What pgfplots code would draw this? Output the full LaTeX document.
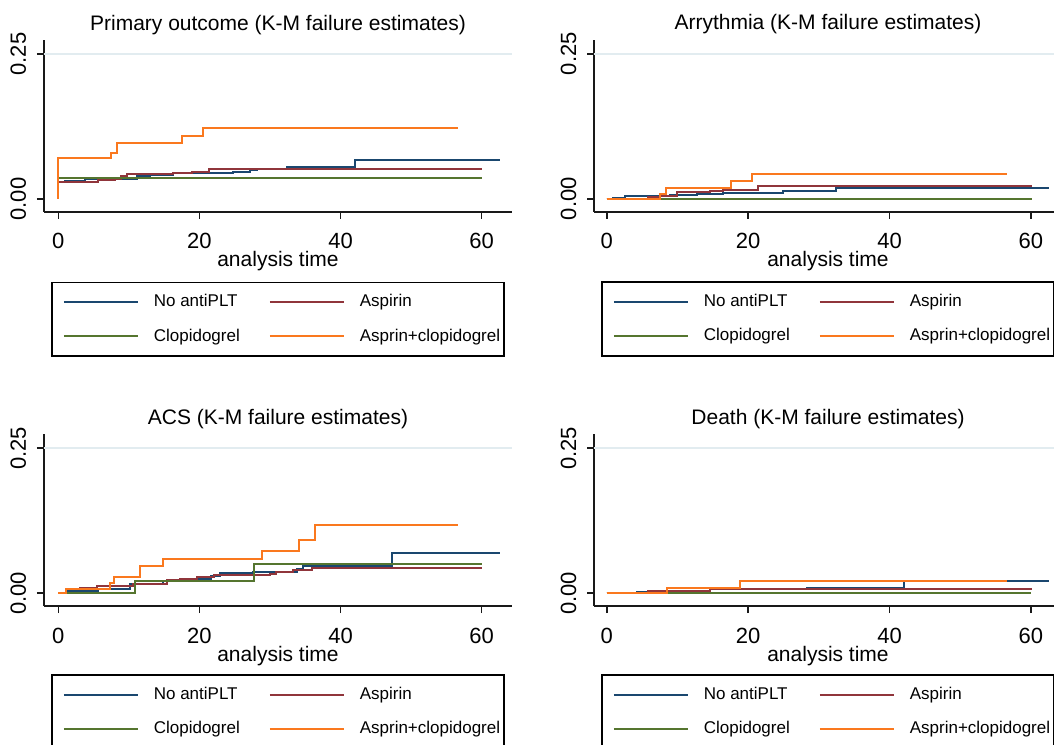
\documentclass[border=0pt]{standalone}
\usepackage{fontspec}
\setmainfont{Liberation Sans}
\usepackage{pgfplots}
\pgfplotsset{compat=1.18}

\definecolor{snavy}{RGB}{26,71,111}
\definecolor{smaroon}{RGB}{144,53,59}
\definecolor{sgreen}{RGB}{85,117,47}
\definecolor{sorange}{RGB}{250,120,30}
\definecolor{sgrid}{RGB}{226,236,240}

% one Stata-like K-M panel; 1px of the reference = 0.5pt
\pgfplotsset{
  km/.style={
    scale only axis, width=234pt, height=86pt,
    ymin=-0.0224, ymax=0.2741,
    axis x line=bottom, axis y line=left,
    axis line style={-, line width=1pt, black!90},
    xtick={0,20,40,60}, ytick={0,0.25},
    extra y ticks={0.25}, extra y tick labels={},
    extra y tick style={grid=major, major tick length=0pt},
    major grid style={sgrid, line width=0.8pt},
    tick align=outside, major tick length=3.5pt,
    every tick/.style={black!90, line width=0.8pt},
    /pgf/number format/assume math mode=true,
    yticklabel style={xshift=-5.5pt, rotate=90, anchor=base, font=\fontsize{11}{13}\selectfont,
      /pgf/number format/.cd, fixed, fixed zerofill, precision=2},
    xticklabel style={anchor=base, yshift=-15pt, inner sep=0pt, font=\fontsize{11}{13}\selectfont},
    xlabel={analysis time},
    xlabel style={at={(axis description cs:0.5,0)}, anchor=base, yshift=-27.5pt, inner sep=0pt,
      font=\fontsize{10.5}{12}\selectfont},
    title style={at={(axis description cs:0.5,1)}, anchor=base, yshift=-1.1pt,
      font=\fontsize{10.5}{12}\selectfont},
    legend columns=2,
    legend cell align=left,
    legend image code/.code={\path (0pt,0pt); \draw[##1] (3.5pt,0pt) -- (40.5pt,0pt);},
    legend style={at={(0.015,-0.405)}, anchor=north west, draw=black, line width=0.8pt,
      fill=white, font=\fontsize{8.5}{10}\selectfont, inner xsep=2pt, inner ysep=6pt,
      nodes={inner sep=0pt}, row sep=9.5pt,
      /tikz/every odd column/.append style={column sep=7.5pt},
      /tikz/every even column/.append style={column sep=11pt}},
    every axis plot/.append style={line width=1pt, const plot},
  },
}

\begin{document}
\begin{tikzpicture}
\useasboundingbox (0,0) rectangle (527pt,372pt);
\clip (0,0) rectangle (527pt,372pt);

% ---------- Primary outcome
\begin{axis}[km, at={(22pt,266pt)}, anchor=south west, xmin=-2.03, xmax=64.3,
  title={Primary outcome (K-M failure estimates)}]
\addplot[snavy] coordinates {(0,0.0299) (0.94,0.0316) (3.78,0.0345) (11.1,0.0397) (13.0,0.0408)
  (16.3,0.0443) (24.8,0.046) (27.2,0.05) (28.1,0.0511) (32.4,0.0546) (42.0,0.0672) (62.6,0.0672)};
\addplot[smaroon] coordinates {(0,0.0287) (5.67,0.0328) (8.03,0.0351) (8.83,0.0397) (9.68,0.0425)
  (16.3,0.0448) (18.9,0.0466) (21.3,0.0523) (60.1,0.0523)};
\addplot[sgreen] coordinates {(0,0.0368) (60.1,0.0368)};
\addplot[sorange] coordinates {(0,0) (0,0.0713) (7.46,0.0787) (8.27,0.097) (17.57,0.109)
  (20.55,0.123) (56.6,0.123)};
\legend{No antiPLT, Aspirin, Clopidogrel, Asprin+clopidogrel}
\end{axis}

% ---------- Arrythmia
\begin{axis}[km, at={(297pt,266.1pt)}, anchor=south west, xmin=-1.8, xmax=64.4,
  title={Arrythmia (K-M failure estimates)}]
\addplot[snavy] coordinates {(0,0) (0.94,0.0017) (2.59,0.004) (8.96,0.0057) (12.7,0.0075)
  (16.5,0.0098) (24.9,0.0126) (32.5,0.0184) (62.5,0.0184)};
\addplot[smaroon] coordinates {(0,0) (5.89,0.0029) (7.54,0.0052) (9.9,0.0109) (14.6,0.0132)
  (16.5,0.0155) (21.45,0.0218) (60.1,0.0218)};
\addplot[sgreen] coordinates {(0,0) (60.1,0)};
\addplot[sorange] coordinates {(0,0) (7.54,0.0086) (8.39,0.0184) (17.59,0.0299) (20.5,0.042)
  (56.6,0.042)};
\legend{No antiPLT, Aspirin, Clopidogrel, Asprin+clopidogrel}
\end{axis}

% ---------- ACS
\begin{axis}[km, at={(22pt,68.9pt)}, anchor=south west, xmin=-2.03, xmax=64.3,
  title={ACS (K-M failure estimates)}, legend style={at={(0.015,-0.397)}}]
\addplot[snavy] coordinates {(0,0) (1.42,0.004) (5.67,0.0081) (10.2,0.0156) (14.9,0.0214)
  (18.2,0.0243) (21.7,0.0295) (22.9,0.0341) (27.6,0.0365) (33.8,0.0411) (34.7,0.0469)
  (47.3,0.0689) (62.6,0.0689)};
\addplot[smaroon] coordinates {(0,0) (1.1,0.0064) (3.07,0.0093) (5.43,0.0116) (10.6,0.0156)
  (15.35,0.0226) (17.2,0.0249) (19.6,0.0284) (22.0,0.0312) (30.0,0.033) (30.9,0.037)
  (33.3,0.040) (36.0,0.0434) (60.1,0.0434)};
\addplot[sgreen] coordinates {(0,0) (10.86,0.0208) (27.8,0.0503) (60.1,0.0503)};
\addplot[sorange] coordinates {(0,0) (1.09,0.0081) (7.32,0.0168) (7.89,0.0278) (11.57,0.0475)
  (14.88,0.059) (28.9,0.0735) (34.15,0.0909) (36.4,0.118) (56.6,0.118)};
\legend{No antiPLT, Aspirin, Clopidogrel, Asprin+clopidogrel}
\end{axis}

% ---------- Death
\begin{axis}[km, at={(297pt,68.9pt)}, anchor=south west, xmin=-1.8, xmax=64.4,
  title={Death (K-M failure estimates)}, legend style={at={(0.015,-0.397)}}]
\addplot[snavy] coordinates {(0,0) (0.94,0.0012) (4.24,0.0023) (5.89,0.004) (14.6,0.0064)
  (28.3,0.0098) (42.05,0.0212) (62.5,0.0212)};
\addplot[smaroon] coordinates {(0,0) (5.89,0.003) (8.49,0.0046) (14.6,0.0064) (60.1,0.0064)};
\addplot[sgreen] coordinates {(0,0) (60,0)};
\addplot[sorange] coordinates {(0,0) (8.49,0.0087) (18.86,0.0214) (56.6,0.0214)};
\legend{No antiPLT, Aspirin, Clopidogrel, Asprin+clopidogrel}
\end{axis}
\end{tikzpicture}
\end{document}
